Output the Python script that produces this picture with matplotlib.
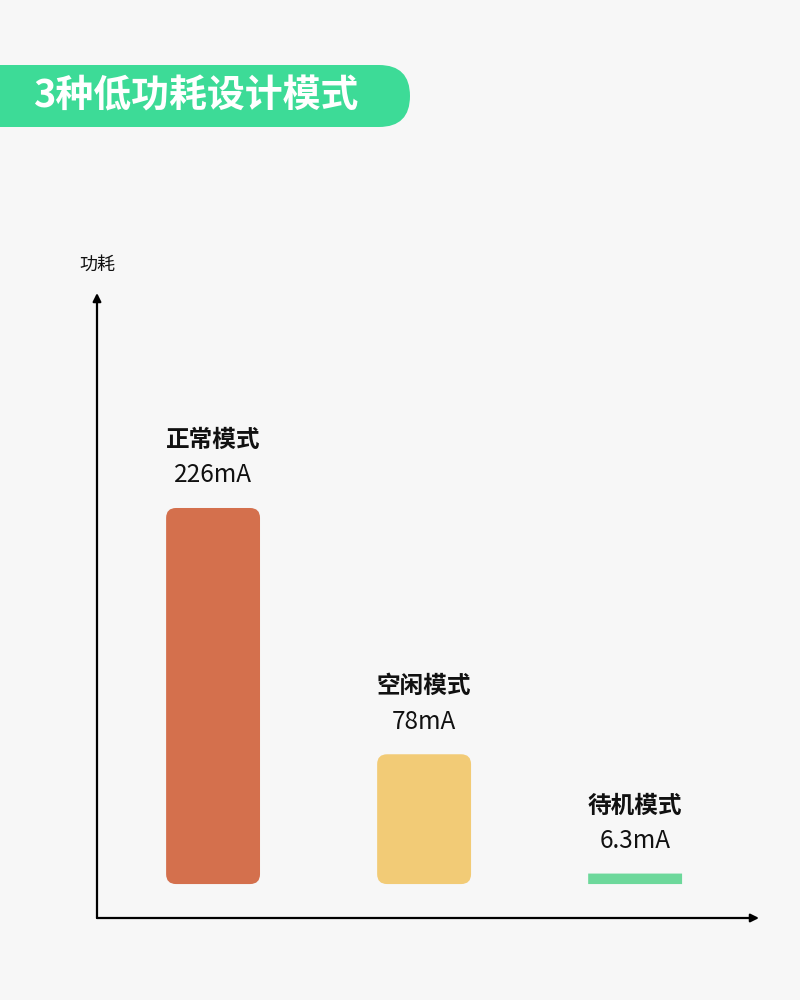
import matplotlib
matplotlib.use('Agg')
import matplotlib.pyplot as plt
from matplotlib.patches import FancyBboxPatch

plt.rcParams['font.family'] = ['Noto Sans CJK SC', 'DejaVu Sans']

# 数据
modes = ['正常模式', '空闲模式', '待机模式']
current_ma = [226, 78, 6.3]
value_labels = ['226mA', '78mA', '6.3mA']
bar_colors = ['#d4704d', '#f2cb76', '#6dd89b']
title = '3种低功耗设计模式'
ylabel = '功耗'

bg = '#f7f7f7'
fig = plt.figure(figsize=(8, 10), dpi=100, facecolor=bg)

# 标题横条 (单位: 英寸)
banner = FancyBboxPatch((-0.5, 8.73), 4.6, 0.62,
                        boxstyle='round,pad=0,rounding_size=0.31',
                        transform=fig.dpi_scale_trans,
                        facecolor='#3ddb97', edgecolor='none')
fig.patches.append(banner)
fig.text(0.33, 9.04, title, transform=fig.dpi_scale_trans,
         fontsize=27.3, fontweight='bold', color='white', va='center', ha='left')

# 主坐标轴
ax = fig.add_axes([97 / 800, 82 / 1000, 662 / 800, 625 / 1000])
ax.set_facecolor(bg)
ax.set_xlim(-0.55, 2.587)
ax.set_ylim(-20.4, 355.2)
for s in ax.spines.values():
    s.set_visible(False)
ax.set_xticks([])
ax.set_yticks([])

# 坐标轴箭头
ax.annotate('', xy=(1, 0), xytext=(0, 0), xycoords='axes fraction',
            arrowprops=dict(arrowstyle='-|>', lw=1.6, color='black', mutation_scale=12,
                            shrinkA=0, shrinkB=0))
ax.annotate('', xy=(0, 1), xytext=(0, 0), xycoords='axes fraction',
            arrowprops=dict(arrowstyle='-|>', lw=1.6, color='black', mutation_scale=12,
                            shrinkA=0, shrinkB=0))
ax.text(0, 1.045, ylabel, transform=ax.transAxes, ha='center', va='center',
        fontsize=13, color='#111111', clip_on=False)

# 柱子 (圆角)
bars = ax.bar(range(len(modes)), current_ma, width=0.445, color='none')
x_px = 211.0
y_px = 1.664
aspect = x_px / y_px
for b, c in zip(bars, bar_colors):
    x0, y0 = b.get_x(), b.get_y()
    w, h = b.get_width(), b.get_height()
    r = 0.047 if h * y_px > 30 else 0.0
    p = FancyBboxPatch((x0, y0), w, h,
                       boxstyle='round,pad=0,rounding_size=%f' % r,
                       mutation_aspect=aspect, facecolor=c, edgecolor='none')
    ax.add_patch(p)
    b.remove()

for i, (m, v, lab) in enumerate(zip(modes, current_ma, value_labels)):
    ax.annotate(m, xy=(i, v), xytext=(0, 49), textcoords='offset points',
                ha='center', va='center', fontsize=17, fontweight='bold', color='#111111')
    ax.annotate(lab, xy=(i, v), xytext=(0, 23.5), textcoords='offset points',
                ha='center', va='center', fontsize=17.5, color='#111111')

fig.savefig('out.png', dpi=100, facecolor=bg)
